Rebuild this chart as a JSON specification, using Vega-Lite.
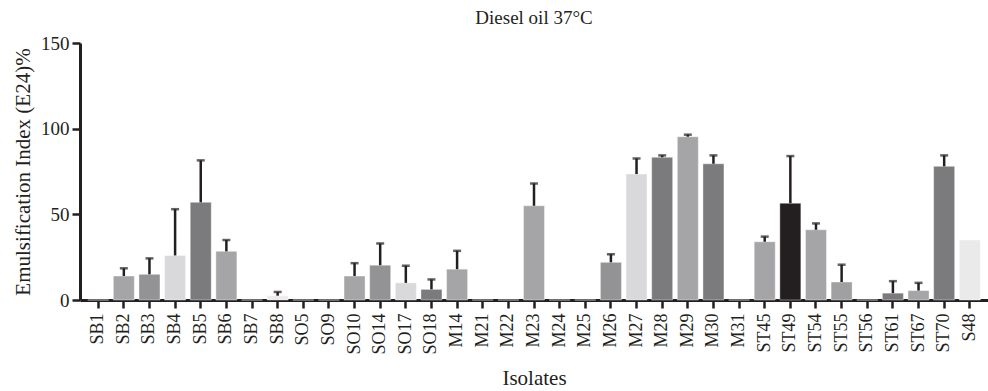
{
  "$schema": "https://vega.github.io/schema/vega-lite/v6.json",
  "autosize": "none",
  "padding": {"left": 80, "top": 43, "right": 0, "bottom": 91},
  "width": 908,
  "height": 257,
  "background": "white",
  "config": {
    "view": {"stroke": null},
    "font": "Liberation Serif",
    "axis": {
      "grid": false,
      "domainColor": "#231f20",
      "domainWidth": 3,
      "tickColor": "#231f20",
      "tickWidth": 2.5,
      "tickSize": 8,
      "labelColor": "#231f20",
      "labelFont": "Liberation Serif",
      "labelFontSize": 18,
      "titleColor": "#231f20",
      "titleFont": "Liberation Serif",
      "titleFontSize": 21,
      "titleFontWeight": "normal"
    },
    "title": {"font": "Liberation Serif", "fontSize": 19, "fontWeight": "normal", "color": "#231f20"}
  },
  "title": {"text": "Diesel oil 37°C", "offset": 6},
  "data": {
    "values": [
      {"isolate": "SB1", "value": 0},
      {"isolate": "SB2", "value": 14, "upper": 18.5},
      {"isolate": "SB3", "value": 15, "upper": 24.3},
      {"isolate": "SB4", "value": 26, "upper": 53},
      {"isolate": "SB5", "value": 57, "upper": 81.5},
      {"isolate": "SB6", "value": 28.4, "upper": 35},
      {"isolate": "SB7", "value": 0},
      {"isolate": "SB8", "value": 2.5, "upper": 4.7},
      {"isolate": "SO5", "value": 0},
      {"isolate": "SO9", "value": 0},
      {"isolate": "SO10", "value": 14, "upper": 21.5},
      {"isolate": "SO14", "value": 20.3, "upper": 33},
      {"isolate": "SO17", "value": 10, "upper": 20},
      {"isolate": "SO18", "value": 6.2, "upper": 12},
      {"isolate": "M14", "value": 18, "upper": 28.7},
      {"isolate": "M21", "value": 0},
      {"isolate": "M22", "value": 0},
      {"isolate": "M23", "value": 55, "upper": 68},
      {"isolate": "M24", "value": 0},
      {"isolate": "M25", "value": 0},
      {"isolate": "M26", "value": 22, "upper": 26.7},
      {"isolate": "M27", "value": 73.5, "upper": 82.6},
      {"isolate": "M28", "value": 83.3, "upper": 84.4},
      {"isolate": "M29", "value": 95.3, "upper": 96.5},
      {"isolate": "M30", "value": 79.5, "upper": 84.4},
      {"isolate": "M31", "value": 0},
      {"isolate": "ST45", "value": 34, "upper": 37},
      {"isolate": "ST49", "value": 56.5, "upper": 84},
      {"isolate": "ST54", "value": 41, "upper": 44.7},
      {"isolate": "ST55", "value": 10.5, "upper": 20.6},
      {"isolate": "ST56", "value": 0},
      {"isolate": "ST61", "value": 4, "upper": 11},
      {"isolate": "ST67", "value": 5.5, "upper": 10},
      {"isolate": "ST70", "value": 78, "upper": 84.4},
      {"isolate": "S48", "value": 35}
    ]
  },
  "encoding": {
    "x": {
      "field": "isolate",
      "type": "nominal",
      "sort": null,
      "scale": {"paddingInner": 0.18, "paddingOuter": 0.3},
      "axis": {"title": "Isolates", "labelAngle": -90, "labelAlign": "right", "labelBaseline": "middle", "labelPadding": 5, "titlePadding": 13}
    }
  },
  "layer": [
    {
      "mark": {"type": "bar", "stroke": "#ffffff", "strokeWidth": 0.8, "strokeOpacity": 0.5},
      "encoding": {
        "y": {
          "field": "value",
          "type": "quantitative",
          "scale": {"domain": [0, 150], "nice": false},
          "axis": {"title": "Emulsification Index (E24)%", "values": [0, 50, 100, 150], "labelPadding": 3, "labelFontSize": 19, "titleFontSize": 21, "titlePadding": 7}
        },
        "color": {
          "field": "isolate",
          "type": "nominal",
          "legend": null,
          "scale": {
            "domain": ["SB1","SB2","SB3","SB4","SB5","SB6","SB7","SB8","SO5","SO9","SO10","SO14","SO17","SO18","M14","M21","M22","M23","M24","M25","M26","M27","M28","M29","M30","M31","ST45","ST49","ST54","ST55","ST56","ST61","ST67","ST70","S48"],
            "range": ["#a5a5a7","#a5a5a7","#939395","#d9d9db","#7b7b7e","#a5a5a7","#939395","#ececed","#a5a5a7","#a5a5a7","#a5a5a7","#939395","#d9d9db","#7b7b7e","#a5a5a7","#a5a5a7","#a5a5a7","#a5a5a7","#a5a5a7","#a5a5a7","#939395","#d9d9db","#7b7b7e","#a5a5a7","#7b7b7e","#a5a5a7","#a5a5a7","#231f20","#a5a5a7","#a0a0a2","#a5a5a7","#7b7b7e","#a5a5a7","#7b7b7e","#eaeaeb"]
          }
        }
      }
    },
    {
      "transform": [{"filter": "isValid(datum.upper)"}],
      "mark": {"type": "rule", "color": "#231f20", "strokeWidth": 2.5},
      "encoding": {
        "y": {"field": "value", "type": "quantitative"},
        "y2": {"field": "upper"}
      }
    },
    {
      "transform": [{"filter": "isValid(datum.upper)"}],
      "mark": {"type": "tick", "color": "#231f20", "size": 8, "thickness": 2.5, "orient": "horizontal"},
      "encoding": {
        "y": {"field": "upper", "type": "quantitative"}
      }
    }
  ]
}
